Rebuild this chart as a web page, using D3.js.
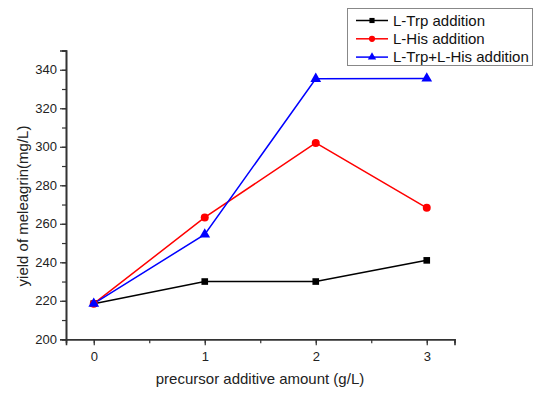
<!DOCTYPE html>
<html><head><meta charset="utf-8">
<script src="https://cdn.jsdelivr.net/npm/d3@7"></script>
<style>body{margin:0;background:#fff}svg{display:block;font-family:"Liberation Sans",Arial,sans-serif}</style>
</head><body>
<svg id="c" width="550" height="396"></svg>
<script>
const xValues = [0, 1, 2, 3];
const trp = [218.5, 230, 230, 241];
const his = [218.5, 263.3, 302, 268.3];
const both = [218.5, 254.5, 335.3, 335.5];
const seriesNames = ["L-Trp addition", "L-His addition", "L-Trp+L-His addition"];
const xTicks = [0, 1, 2, 3];
const yTicks = [200, 220, 240, 260, 280, 300, 320, 340];

const svg = d3.select("#c");
const x = d3.scaleLinear().domain([-0.25, 3.25]).range([66, 454.5]);
const y = d3.scaleLinear().domain([200, 350]).range([339.3, 50.5]);
const axisColor = "#333";

const gx = svg.append("g").attr("transform", "translate(0,339.3)");
gx.call(d3.axisBottom(x).tickValues(d3.range(0, 3.01, 0.5)).tickSize(4).tickFormat(""));
gx.append("g").call(d3.axisBottom(x).tickValues(xTicks).tickSize(6).tickFormat(d3.format("d")));
gx.selectAll("path.domain").attr("stroke", axisColor).attr("stroke-width", 1.6);
gx.selectAll("line").attr("stroke", axisColor).attr("stroke-width", 1.2);
gx.selectAll("text").attr("font-size", 13).attr("fill", "#222").attr("dy", "1.0em");

const gy = svg.append("g").attr("transform", "translate(66,0)");
gy.call(d3.axisLeft(y).tickValues(d3.range(200, 350.1, 10)).tickSize(4).tickFormat(""));
gy.append("g").call(d3.axisLeft(y).tickValues(yTicks).tickSize(6).tickFormat(d3.format("d")));
gy.selectAll("path.domain").attr("stroke", axisColor).attr("stroke-width", 1.6);
gy.selectAll("line").attr("stroke", axisColor).attr("stroke-width", 1.2);
gy.selectAll("text").attr("font-size", 13).attr("fill", "#222");

svg.append("text").attr("x", 260).attr("y", 384).attr("text-anchor", "middle")
  .attr("font-size", 15).attr("fill", "#222").text("precursor additive amount (g/L)");
svg.append("text").attr("transform", "translate(28,206) rotate(-90)").attr("text-anchor", "middle")
  .attr("font-size", 15).attr("fill", "#222").text("yield of meleagrin(mg/L)");

const series = [
  {name: seriesNames[0], vals: trp, color: "#000", sym: d3.symbolSquare, size: 44},
  {name: seriesNames[1], vals: his, color: "#ff0000", sym: d3.symbolCircle, size: 50},
  {name: seriesNames[2], vals: both, color: "#0000ff", sym: d3.symbolTriangle, size: 50}
];
const line = d3.line().x((d, i) => x(xValues[i])).y(d => y(d));
series.forEach(s => {
  svg.append("path").attr("d", line(s.vals)).attr("fill", "none").attr("stroke", s.color).attr("stroke-width", 1.5);
});
series.forEach(s => {
  svg.selectAll(null).data(s.vals).enter().append("path")
    .attr("d", d3.symbol().type(s.sym).size(s.size))
    .attr("transform", (d, i) => `translate(${x(xValues[i])},${y(d)})`)
    .attr("fill", s.color);
});

const lg = svg.append("g");
lg.append("rect").attr("x", 347.5).attr("y", 8.5).attr("width", 185).attr("height", 57)
  .attr("fill", "#fff").attr("stroke", "#888").attr("stroke-width", 1);
series.forEach((s, i) => {
  const yy = 20.5 + i * 18.3;
  lg.append("line").attr("x1", 356).attr("x2", 388).attr("y1", yy).attr("y2", yy)
    .attr("stroke", s.color).attr("stroke-width", 1.5);
  lg.append("path").attr("d", d3.symbol().type(s.sym).size(s.size * 0.6)).attr("transform", `translate(372,${yy})`).attr("fill", s.color);
  lg.append("text").attr("x", 393).attr("y", yy).attr("dy", "0.35em").attr("font-size", 15).attr("fill", "#111").text(s.name);
});
</script>
</body></html>
